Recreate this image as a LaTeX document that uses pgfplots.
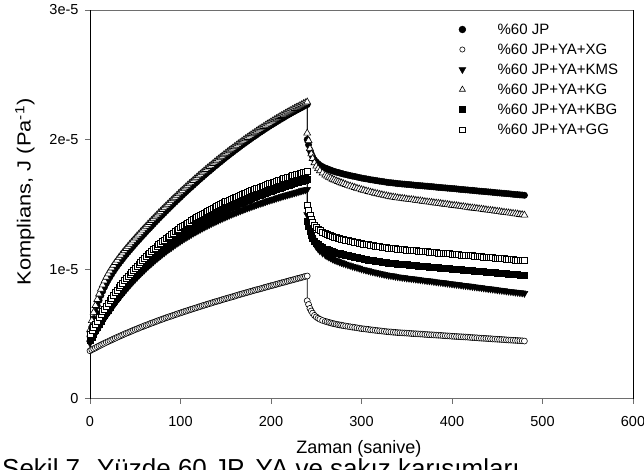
\documentclass[border=0pt]{standalone}
\usepackage{fontspec}
\setmainfont{Liberation Sans}
\usepackage{graphicx}
\usepackage{pgfplots}
\usepackage{pgfplotstable}
\pgfplotsset{compat=1.18}
\definecolor{axgray}{RGB}{110,110,110}

\pgfplotstableread{
t JP XG KMS KG KBG GG
0 0.481 0.370 0.430 0.531 0.450 0.500
2 0.553 0.378 0.455 0.603 0.476 0.526
4 0.616 0.385 0.480 0.666 0.501 0.552
6 0.670 0.392 0.504 0.719 0.526 0.577
8 0.717 0.400 0.528 0.766 0.550 0.601
10 0.759 0.407 0.551 0.808 0.574 0.625
12 0.797 0.414 0.574 0.846 0.598 0.648
14 0.830 0.421 0.596 0.878 0.620 0.671
16 0.861 0.428 0.618 0.909 0.643 0.693
18 0.889 0.435 0.639 0.937 0.664 0.715
20 0.915 0.441 0.660 0.963 0.686 0.737
22 0.939 0.448 0.680 0.986 0.707 0.758
24 0.962 0.454 0.700 1.009 0.727 0.778
26 0.983 0.461 0.719 1.030 0.747 0.798
28 1.004 0.467 0.738 1.051 0.767 0.818
30 1.024 0.474 0.757 1.070 0.786 0.837
32 1.043 0.480 0.775 1.089 0.805 0.856
34 1.061 0.486 0.793 1.107 0.823 0.875
36 1.079 0.492 0.810 1.125 0.841 0.893
38 1.097 0.499 0.827 1.142 0.859 0.911
40 1.114 0.505 0.844 1.159 0.876 0.928
42 1.131 0.510 0.860 1.176 0.893 0.945
44 1.147 0.516 0.876 1.192 0.909 0.962
46 1.164 0.522 0.892 1.208 0.926 0.978
48 1.180 0.528 0.908 1.224 0.942 0.994
50 1.196 0.534 0.923 1.240 0.957 1.010
52 1.212 0.539 0.937 1.256 0.973 1.025
54 1.227 0.545 0.952 1.270 0.987 1.040
56 1.243 0.551 0.966 1.286 1.002 1.055
58 1.258 0.556 0.980 1.301 1.017 1.069
60 1.273 0.562 0.993 1.316 1.031 1.084
62 1.289 0.567 1.007 1.331 1.045 1.098
64 1.304 0.572 1.020 1.346 1.058 1.111
66 1.318 0.578 1.033 1.360 1.071 1.125
68 1.333 0.583 1.045 1.375 1.085 1.138
70 1.348 0.588 1.057 1.389 1.097 1.151
72 1.363 0.593 1.070 1.404 1.110 1.163
74 1.377 0.599 1.081 1.418 1.122 1.176
76 1.392 0.604 1.093 1.433 1.134 1.188
78 1.406 0.609 1.104 1.446 1.146 1.200
80 1.420 0.614 1.116 1.460 1.158 1.212
82 1.434 0.619 1.126 1.474 1.169 1.223
84 1.448 0.624 1.137 1.488 1.181 1.235
86 1.462 0.629 1.148 1.501 1.192 1.246
88 1.476 0.634 1.158 1.515 1.202 1.257
90 1.490 0.638 1.168 1.529 1.213 1.268
92 1.504 0.643 1.178 1.543 1.224 1.278
94 1.517 0.648 1.188 1.555 1.234 1.289
96 1.531 0.653 1.198 1.569 1.244 1.299
98 1.544 0.658 1.207 1.582 1.254 1.309
100 1.557 0.662 1.217 1.595 1.264 1.319
102 1.571 0.667 1.225 1.608 1.273 1.328
104 1.584 0.672 1.235 1.621 1.283 1.338
106 1.597 0.676 1.243 1.634 1.292 1.347
108 1.610 0.681 1.252 1.647 1.301 1.356
110 1.623 0.685 1.260 1.659 1.310 1.365
112 1.635 0.690 1.269 1.671 1.319 1.374
114 1.648 0.694 1.277 1.684 1.327 1.383
116 1.661 0.699 1.285 1.697 1.336 1.392
118 1.673 0.703 1.293 1.708 1.344 1.400
120 1.686 0.708 1.301 1.721 1.353 1.408
122 1.698 0.712 1.308 1.733 1.361 1.417
124 1.710 0.717 1.316 1.745 1.369 1.425
126 1.723 0.721 1.323 1.757 1.377 1.433
128 1.735 0.725 1.331 1.769 1.384 1.441
130 1.747 0.730 1.338 1.781 1.392 1.448
132 1.758 0.734 1.345 1.792 1.399 1.456
134 1.770 0.738 1.352 1.803 1.407 1.463
136 1.782 0.743 1.359 1.815 1.414 1.471
138 1.794 0.747 1.365 1.827 1.421 1.478
140 1.805 0.751 1.372 1.838 1.428 1.485
142 1.817 0.755 1.379 1.849 1.435 1.492
144 1.828 0.759 1.385 1.860 1.442 1.499
146 1.839 0.764 1.391 1.871 1.449 1.506
148 1.851 0.768 1.398 1.883 1.456 1.513
150 1.862 0.772 1.404 1.893 1.462 1.520
152 1.873 0.776 1.410 1.904 1.469 1.527
154 1.884 0.780 1.416 1.915 1.475 1.533
156 1.894 0.784 1.422 1.925 1.482 1.540
158 1.905 0.788 1.428 1.935 1.488 1.546
160 1.916 0.792 1.434 1.946 1.494 1.552
162 1.926 0.797 1.439 1.956 1.500 1.558
164 1.937 0.801 1.445 1.967 1.506 1.564
166 1.947 0.805 1.450 1.976 1.512 1.571
168 1.958 0.809 1.456 1.987 1.518 1.577
170 1.968 0.813 1.461 1.997 1.524 1.582
172 1.978 0.817 1.467 2.007 1.530 1.588
174 1.988 0.821 1.472 2.016 1.535 1.594
176 1.998 0.825 1.477 2.026 1.541 1.600
178 2.008 0.829 1.482 2.036 1.546 1.605
180 2.018 0.833 1.487 2.046 1.552 1.611
182 2.027 0.837 1.492 2.054 1.557 1.616
184 2.037 0.841 1.497 2.064 1.563 1.622
186 2.047 0.844 1.502 2.074 1.568 1.627
188 2.056 0.848 1.507 2.083 1.573 1.633
190 2.065 0.852 1.511 2.091 1.578 1.638
192 2.075 0.856 1.516 2.101 1.584 1.643
194 2.084 0.860 1.521 2.110 1.589 1.648
196 2.093 0.864 1.526 2.119 1.594 1.654
198 2.102 0.868 1.530 2.127 1.599 1.659
200 2.111 0.872 1.535 2.136 1.604 1.664
202 2.119 0.875 1.539 2.144 1.609 1.669
204 2.128 0.879 1.543 2.153 1.613 1.674
206 2.137 0.883 1.548 2.161 1.618 1.678
208 2.145 0.887 1.552 2.169 1.623 1.683
210 2.154 0.891 1.556 2.178 1.628 1.688
212 2.162 0.895 1.561 2.186 1.632 1.693
214 2.170 0.898 1.565 2.193 1.637 1.698
216 2.179 0.902 1.569 2.202 1.642 1.702
218 2.187 0.906 1.573 2.210 1.646 1.707
220 2.195 0.910 1.577 2.218 1.651 1.712
222 2.203 0.914 1.581 2.225 1.655 1.716
224 2.211 0.917 1.585 2.233 1.660 1.721
226 2.218 0.921 1.589 2.240 1.664 1.725
228 2.226 0.925 1.593 2.248 1.668 1.730
230 2.233 0.929 1.597 2.254 1.672 1.734
232 2.241 0.932 1.601 2.262 1.677 1.738
234 2.248 0.936 1.605 2.269 1.681 1.743
236 2.256 0.940 1.609 2.277 1.685 1.747
238 2.263 0.944 1.612 2.283 1.689 1.751
240 2.270 0.947 1.616 2.290 1.694 1.756
240 2.000 0.756 1.420 2.050 1.370 1.495
241.5 1.960 0.727 1.364 1.992 1.332 1.455
243 1.919 0.697 1.305 1.930 1.291 1.414
244.5 1.891 0.677 1.266 1.889 1.264 1.386
246 1.867 0.660 1.232 1.854 1.241 1.362
248 1.844 0.643 1.200 1.821 1.219 1.339
250 1.827 0.631 1.175 1.795 1.202 1.322
252 1.814 0.621 1.157 1.776 1.189 1.309
254 1.802 0.613 1.141 1.759 1.178 1.297
257 1.791 0.604 1.124 1.742 1.166 1.286
260 1.780 0.597 1.109 1.726 1.156 1.275
262 1.775 0.593 1.101 1.718 1.151 1.270
264 1.769 0.589 1.093 1.709 1.145 1.264
266 1.764 0.585 1.086 1.702 1.140 1.259
268 1.758 0.581 1.078 1.694 1.135 1.253
270 1.754 0.578 1.072 1.688 1.131 1.249
272 1.749 0.575 1.066 1.681 1.126 1.244
274 1.746 0.572 1.061 1.676 1.123 1.241
276 1.742 0.569 1.055 1.670 1.119 1.237
278 1.738 0.567 1.050 1.665 1.116 1.233
280 1.734 0.564 1.045 1.659 1.112 1.229
282.5 1.730 0.561 1.039 1.653 1.108 1.225
285 1.726 0.558 1.033 1.647 1.104 1.221
287.5 1.722 0.555 1.028 1.641 1.100 1.217
290 1.718 0.552 1.022 1.635 1.096 1.213
292.5 1.715 0.550 1.017 1.630 1.093 1.210
295 1.711 0.547 1.012 1.624 1.089 1.206
297.5 1.707 0.544 1.007 1.619 1.086 1.202
300 1.703 0.541 1.001 1.613 1.082 1.198
302.5 1.700 0.539 0.997 1.609 1.079 1.195
305 1.697 0.537 0.992 1.604 1.075 1.192
307.5 1.694 0.535 0.988 1.599 1.072 1.189
310 1.690 0.532 0.983 1.594 1.069 1.185
312.5 1.688 0.530 0.979 1.590 1.067 1.183
315 1.685 0.528 0.975 1.586 1.064 1.180
317.5 1.682 0.526 0.971 1.582 1.061 1.177
320 1.679 0.524 0.967 1.577 1.058 1.174
322.5 1.677 0.522 0.963 1.574 1.056 1.172
325 1.674 0.520 0.959 1.570 1.053 1.169
327.5 1.671 0.518 0.956 1.566 1.051 1.166
330 1.668 0.516 0.952 1.562 1.048 1.163
332.5 1.667 0.515 0.950 1.559 1.046 1.162
335 1.665 0.513 0.947 1.556 1.044 1.160
337.5 1.663 0.512 0.944 1.553 1.042 1.158
340 1.660 0.510 0.941 1.550 1.040 1.155
342.5 1.659 0.509 0.939 1.548 1.039 1.154
345 1.657 0.508 0.936 1.546 1.037 1.152
347.5 1.656 0.507 0.934 1.543 1.036 1.151
350 1.654 0.506 0.931 1.540 1.034 1.149
352.5 1.653 0.505 0.929 1.538 1.033 1.148
355 1.651 0.503 0.927 1.536 1.031 1.146
357.5 1.649 0.502 0.925 1.534 1.029 1.144
360 1.647 0.501 0.922 1.531 1.027 1.142
362.5 1.646 0.500 0.920 1.529 1.026 1.141
365 1.644 0.499 0.918 1.527 1.024 1.139
367.5 1.643 0.498 0.916 1.524 1.023 1.138
370 1.641 0.496 0.913 1.521 1.021 1.136
372.5 1.640 0.495 0.911 1.519 1.020 1.135
375 1.638 0.494 0.909 1.517 1.018 1.133
377.5 1.637 0.493 0.907 1.515 1.017 1.132
380 1.635 0.492 0.904 1.512 1.015 1.130
382.5 1.633 0.491 0.902 1.510 1.014 1.128
385 1.631 0.490 0.900 1.508 1.012 1.126
387.5 1.630 0.489 0.898 1.506 1.010 1.125
390 1.628 0.487 0.895 1.503 1.008 1.123
392.5 1.627 0.486 0.893 1.501 1.007 1.122
395 1.625 0.485 0.891 1.498 1.006 1.120
397.5 1.624 0.484 0.889 1.496 1.004 1.119
400 1.622 0.482 0.886 1.493 1.002 1.117
402.5 1.621 0.481 0.884 1.491 1.001 1.116
405 1.619 0.480 0.882 1.489 0.999 1.114
407.5 1.617 0.479 0.880 1.487 0.998 1.112
410 1.615 0.478 0.877 1.484 0.996 1.110
412.5 1.614 0.477 0.875 1.482 0.995 1.109
415 1.612 0.476 0.873 1.479 0.993 1.107
417.5 1.611 0.475 0.871 1.477 0.992 1.106
420 1.609 0.473 0.868 1.474 0.990 1.104
422.5 1.608 0.472 0.866 1.472 0.989 1.103
425 1.606 0.471 0.863 1.470 0.987 1.101
427.5 1.604 0.470 0.861 1.468 0.985 1.099
430 1.602 0.468 0.859 1.465 0.983 1.097
432.5 1.601 0.467 0.857 1.463 0.982 1.096
435 1.599 0.466 0.854 1.460 0.980 1.094
437.5 1.598 0.465 0.852 1.458 0.979 1.093
440 1.596 0.464 0.849 1.455 0.977 1.091
442.5 1.595 0.463 0.847 1.453 0.976 1.090
445 1.593 0.461 0.845 1.451 0.974 1.088
447.5 1.591 0.460 0.843 1.449 0.973 1.086
450 1.589 0.459 0.840 1.446 0.971 1.084
452.5 1.588 0.458 0.838 1.444 0.970 1.083
455 1.586 0.457 0.836 1.441 0.968 1.081
457.5 1.585 0.456 0.834 1.439 0.967 1.080
460 1.583 0.454 0.831 1.436 0.965 1.078
462.5 1.582 0.453 0.829 1.434 0.964 1.077
465 1.580 0.452 0.827 1.432 0.962 1.075
467.5 1.578 0.451 0.825 1.430 0.960 1.073
470 1.576 0.450 0.822 1.427 0.958 1.071
472.5 1.575 0.449 0.820 1.425 0.957 1.070
475 1.573 0.448 0.818 1.422 0.955 1.068
477.5 1.572 0.447 0.816 1.420 0.954 1.067
480 1.570 0.445 0.813 1.417 0.952 1.065
}\data

\begin{document}
\begin{tikzpicture}
\begin{axis}[
  scale only axis, width=543pt, height=388.7pt,
  xmin=0, xmax=600, ymin=0, ymax=3,
  clip=false,
  xtick={0,100,200,300,400,500,600},
  ytick={0,1,2,3}, yticklabels={0,1e-5,2e-5,3e-5},
  tick align=outside, xtick pos=left, ytick pos=left,
  major tick length=5pt,
  tick style={draw=axgray, line width=0.8pt},
  separate axis lines,
  x axis line style={draw=axgray, line width=0.9pt},
  y axis line style={draw=black, line width=0.9pt},
  ticklabel style={font=\fontsize{14.5}{17}\selectfont},
  xticklabel style={yshift=-9pt},
  yticklabel style={xshift=-3pt},
  /pgf/number format/assume math mode=true,
  xlabel={Zaman (sanive)},
  ylabel={\scalebox{1.15}[1]{Komplians, J (Pa\textsuperscript{-1})}},
  every axis x label/.style={at={(axis description cs:0.495,-0.1295)}, anchor=center, font=\fontsize{18}{21}\selectfont},
  every axis y label/.style={at={(axis description cs:-0.1197,0.532)}, rotate=90, anchor=center, font=\fontsize{19}{22}\selectfont},
  legend style={draw=none, fill=none, at={(rel axis cs:0.6777,0.9641)}, anchor=north west,
    font=\fontsize{15}{18}\selectfont, inner sep=0pt, row sep=6.3pt, column sep=23pt,
    nodes={inner sep=0pt, text height=10.7pt, text depth=3pt}},
  legend cell align=left,
  legend image code/.code={\path (-4pt,0pt) (12pt,0pt); \draw[#1] plot coordinates {(0pt,1.5pt)};},
]
\addplot[black, line width=0.6pt, mark=*, mark size=3.2, mark options={solid, line width=0.5pt, fill=black}, forget plot] table[x=t, y=JP] {\data};
\addplot[black, line width=0.6pt, mark=*, mark size=3, mark options={solid, line width=0.6pt, fill=white}, forget plot] table[x=t, y=XG] {\data};
\addplot[black, line width=0.6pt, mark=triangle*, mark size=4, mark options={solid, rotate=180, line width=0.5pt, fill=black}, forget plot] table[x=t, y=KMS] {\data};
\addplot[black, line width=0.6pt, mark=triangle*, mark size=4, mark options={solid, line width=0.6pt, fill=white}, forget plot] table[x=t, y=KG] {\data};
\addplot[black, line width=0.6pt, mark=square*, mark size=3, mark options={solid, line width=0.5pt, fill=black}, forget plot] table[x=t, y=KBG] {\data};
\addplot[black, line width=0.6pt, mark=square*, mark size=3, mark options={solid, line width=0.6pt, fill=white}, forget plot] table[x=t, y=GG] {\data};

\addlegendimage{only marks, mark=*, mark size=3.4, mark options={solid, line width=0.5pt, fill=black}}
\addlegendentry{\%60 JP}
\addlegendimage{only marks, mark=*, mark size=2.6, mark options={solid, line width=0.6pt, fill=white}}
\addlegendentry{\%60 JP+YA+XG}
\addlegendimage{only marks, mark=triangle*, mark size=4, mark options={solid, rotate=180, line width=0.5pt, fill=black}}
\addlegendentry{\%60 JP+YA+KMS}
\addlegendimage{only marks, mark=triangle*, mark size=3.4, mark options={solid, line width=0.6pt, fill=white}}
\addlegendentry{\%60 JP+YA+KG}
\addlegendimage{only marks, mark=square*, mark size=3, mark options={solid, line width=0.5pt, fill=black}}
\addlegendentry{\%60 JP+YA+KBG}
\addlegendimage{only marks, mark=square*, mark size=2.7, mark options={solid, line width=0.6pt, fill=white}}
\addlegendentry{\%60 JP+YA+GG}
\end{axis}
\node[anchor=base west, inner sep=0pt, font=\fontsize{26}{30}\selectfont] at (-88pt,-79pt) {Şekil 7. Yüzde 60 JP, YA ve sakız karışımları};
\pgfresetboundingbox
\useasboundingbox (-90pt,-71.3pt) rectangle (554pt,398.7pt);
\end{tikzpicture}
\end{document}
